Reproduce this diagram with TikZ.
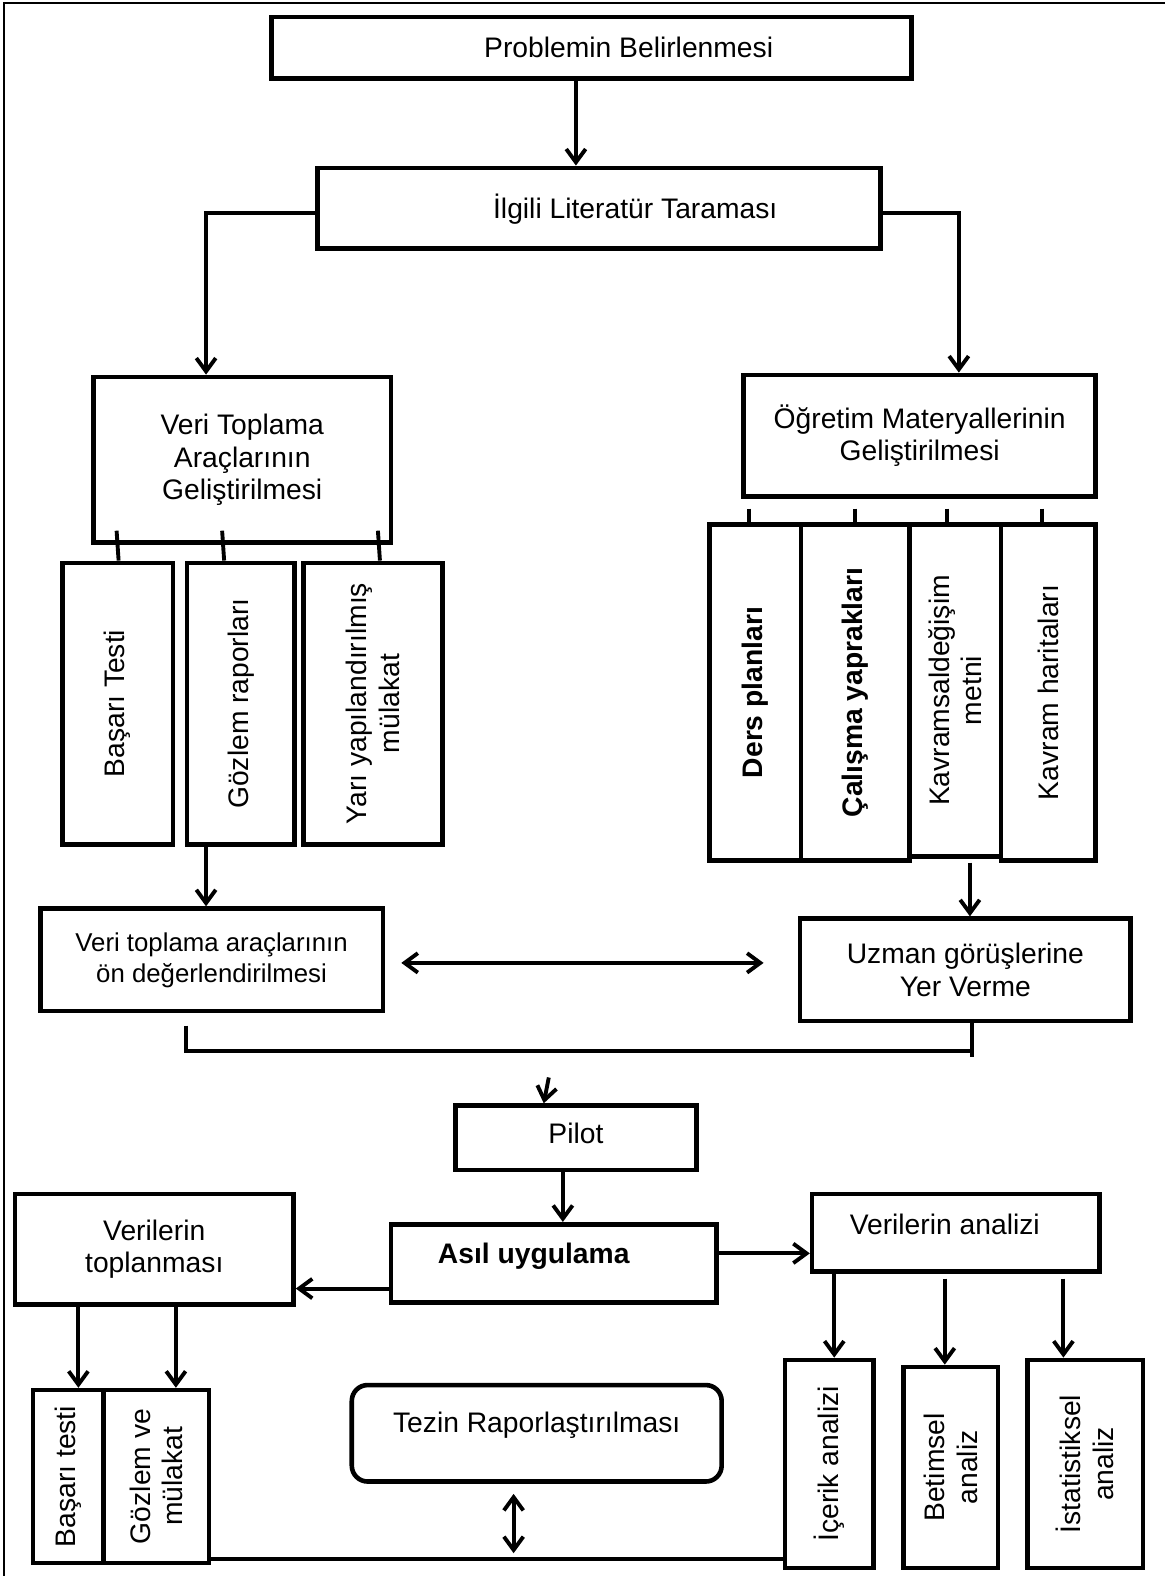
\documentclass[tikz,border=0pt]{standalone}
\usepackage{fontspec}
\setmainfont{Liberation Sans}
\usetikzlibrary{arrows.meta,calc}
\tikzset{
  box/.style={draw, line width=2.6pt, inner sep=0pt, align=center, font=\fontsize{16}{18.3}\selectfont},
  ln/.style={line width=2.2pt},
  tip/.style={Straight Barb[length=7.5pt,width=11pt]},
  arr/.style={line width=2.2pt, -{Straight Barb[length=7.5pt,width=11pt]}},
  darr/.style={line width=2.2pt, {Straight Barb[length=7.5pt,width=11pt]}-{Straight Barb[length=7.5pt,width=11pt]}},
  lbl/.style={font=\fontsize{16}{18.3}\selectfont, align=center, inner sep=0pt},
}
\newcommand\pbox[7]{\node[box,#6,minimum width={(#4-#2)*0.02cm},minimum height={(#5-#3)*0.02cm}] (#1) at ({(#2+#4)/2},{(#3+#5)/2}) {#7};}
% rotated box: page top = east, page bottom = west, page left = north, page right = south
\newcommand\rbox[7]{\node[box,#6,rotate=90,minimum width={(#5-#3)*0.02cm},minimum height={(#4-#2)*0.02cm}] (#1) at ({(#2+#4)/2},{(#3+#5)/2}) {#7};}
\begin{document}
\begin{tikzpicture}[x=0.02cm,y=-0.02cm]
\useasboundingbox (0,0) rectangle (1159,1568);
\draw[line width=1.1pt] (4,1568) -- (4,3) -- (1159,3);

% top
\pbox{pb}{270}{17}{907}{78}{}{}
\node[lbl] (pbt) at ($(pb.center)+(37,0)$) {Problemin Belirlenmesi};
\pbox{il}{316}{167}{876}{247}{}{}
\node[lbl] (ilt) at ($(il.center)+(36,1)$) {İlgili Literatür Taraması};
\draw[arr] (573,0 |- pb.south) -- (573,0 |- il.north);

% left branch
\pbox{vt}{93}{375}{389}{540}{}{Veri Toplama\\Araçlarının\\Geliştirilmesi}
\draw[arr] (il.west |- 0,212) -| (205,0 |- vt.north);
\rbox{bt}{62}{560}{172}{840}{}{Başarı Testi}
\rbox{gr}{186}{560}{293}{840}{}{Gözlem raporları}
\rbox{yy}{302}{560}{440}{840}{}{Yarı yapılandırılmış\\mülakat}
\draw[ln] (116,528) -- (118,0 |- bt.east);
\draw[ln] (221,528) -- (223,0 |- gr.east);
\draw[ln] (376,528) -- (378,0 |- yy.east);

% right branch
\pbox{om}{740}{373}{1090}{494}{}{Öğretim Materyallerinin\\Geliştirilmesi}
\draw[arr] (il.east |- 0,212) -| (954,0 |- om.north);
\rbox{dp}{706}{522}{797}{856}{font=\fontsize{16}{18.3}\bfseries}{Ders planları}
\rbox{cy}{797}{522}{905}{856}{font=\fontsize{16}{18.3}\bfseries}{Çalışma yaprakları}
\rbox{kd}{905}{522}{996}{852}{}{Kavramsaldeğişim\\metni}
\rbox{kh}{996}{522}{1090}{856}{}{Kavram haritaları}
\draw[ln] (745,506) -- (745,0 |- dp.east);
\draw[ln] (851,506) -- (851,0 |- cy.east);
\draw[ln] (942,506) -- (942,0 |- kd.east);
\draw[ln] (1037,506) -- (1037,0 |- kh.east);

% middle
\pbox{va}{40}{904}{381}{1006}{font=\fontsize{14.6}{17.5}\selectfont}{Veri toplama araçlarının\\ön değerlendirilmesi}
\pbox{uz}{796}{914}{1125}{1016}{}{Uzman görüşlerine\\Yer Verme}
\draw[arr] (205,0 |- gr.west) -- (205,0 |- va.north);
\draw[arr] (965,0 |- kh.west) -- (965,0 |- uz.north);
\draw[darr] ($(va.east)+(16,3)$) -- ($(uz.west)+(-34,-7)$);
\draw[ln] ($(va.south west)+(147,12)$) |- (967,1046);
\draw[ln] (967,0 |- uz.south) -- (967,1052);

% pilot
\pbox{pi}{453}{1100}{693}{1164}{}{}
\node[lbl] (pit) at ($(pi.center)+(0,-4)$) {Pilot};
\coordinate (pin) at (546,1072);
\draw[arr] (pin) -- (541,0 |- pi.north);

\pbox{au}{389}{1218}{713}{1296}{}{}
\node[lbl, font=\fontsize{16}{18.3}\bfseries] (aut) at ($(au.center)+(-20,-7)$) {Asıl uygulama};
\draw[arr] (560,0 |- pi.south) -- (560,0 |- au.north);

\pbox{vto}{15}{1188}{292}{1298}{}{Verilerin\\toplanması}
\pbox{van}{808}{1188}{1094}{1265}{}{}
\node[lbl] (vant) at ($(van.center)+(-11,-8)$) {Verilerin analizi};
\draw[arr] (au.west |- 0,1282) -- (vto.east |- 0,1282);
\draw[arr] (au.east |- 0,1247) -- (van.west |- 0,1247);

% bottom left
\rbox{bt2}{33}{1383}{103}{1555}{}{Başarı testi}
\rbox{gm}{103}{1383}{208}{1555}{}{Gözlem ve\\mülakat}
\draw[arr] (78,0 |- vto.south) -- (78,0 |- bt2.east);
\draw[arr] (175,0 |- vto.south) -- (175,0 |- gm.east);

% tezin
\node[box, rounded corners=9pt, minimum width={368*0.02cm}, minimum height={96*0.02cm}] (tz) at (534,1426) {};
\node[lbl] (tzt) at ($(tz.center)+(0,-8)$) {Tezin Raporlaştırılması};
\draw[darr] ($(tz.south)+(-23,10)$) -- ($(tz.south)+(-23,69)$);

% bottom right
\rbox{ia}{781}{1353}{869}{1560}{}{İçerik analizi}
\rbox{ba}{899}{1360}{993}{1560}{}{Betimsel\\analiz}
\rbox{ist}{1022}{1353}{1137}{1560}{}{İstatistiksel\\analiz}
\draw[arr] (830,0 |- van.south) -- (830,0 |- ia.east);
\draw[arr] (940,1272) -- (940,0 |- ba.east);
\draw[arr] (1058,1272) -- (1058,0 |- ist.east);

\draw[ln] (gm.south |- 0,1551) -- (ia.north |- 0,1551);
\end{tikzpicture}
\end{document}
